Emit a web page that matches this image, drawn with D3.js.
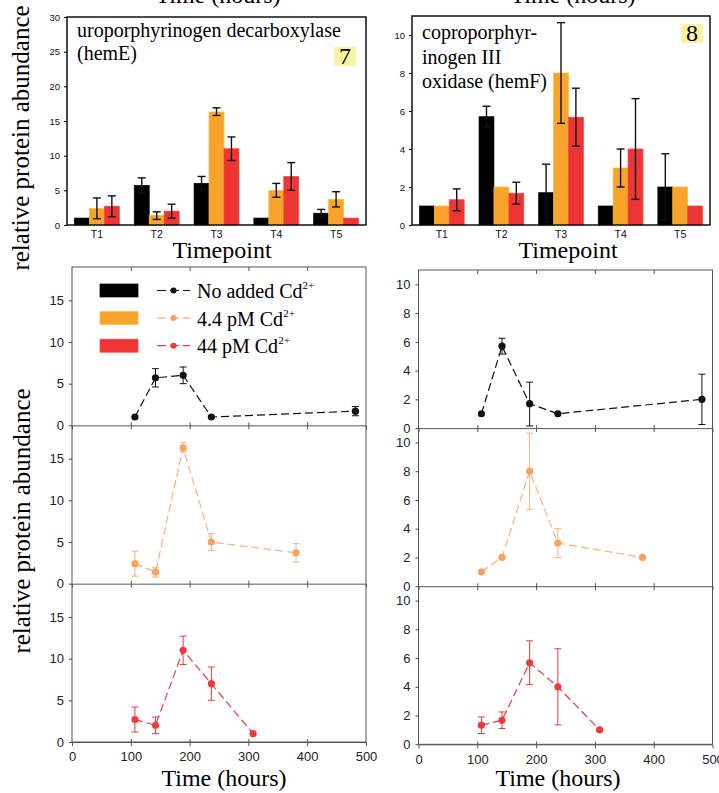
<!DOCTYPE html>
<html>
<head>
<meta charset="utf-8">
<script src="https://cdn.jsdelivr.net/npm/d3@7"></script>
<style>
  body { margin: 0; background: #fff; }
  text { font-family: "Liberation Sans", Arial, sans-serif; }
  .serif { font-family: "Liberation Serif", "Times New Roman", serif; }
</style>
</head>
<body>
<script>
const width = 719, height = 793

// data
const timepoints = ["T1", "T2", "T3", "T4", "T5"]
const conditions = ["No added Cd", "4.4 pM Cd", "44 pM Cd"]
const barColors = ["#000000", "#f8a42c", "#ee3535"]
const lineColors = ["#111111", "#f7a35f", "#ee3a3a"]

// sampling time (hours) for each condition, T1..T5
const hours = [
  [107, 142, 189, 237, 482],
  [107, 142, 189, 237, 381],
  [107, 142, 189, 237, 308]
]

// hemE  (panel 7)
const hemE_mean = [
  [1.0, 5.7, 6.0, 1.0, 1.7],
  [2.4, 1.4, 16.3, 5.0, 3.7],
  [2.7, 2.0, 11.0, 7.0, 1.0]
]
const hemE_lo = [
  [null, 4.6, 5.0, null, 1.15],
  [0.9, 0.8, 15.8, 4.0, 2.6],
  [1.2, 1.0, 9.3, 5.0, null]
]
const hemE_hi = [
  [null, 6.8, 7.0, null, 2.25],
  [3.9, 1.9, 16.9, 6.0, 4.8],
  [4.2, 3.0, 12.7, 9.0, null]
]

// hemF  (panel 8)
const hemF_mean = [
  [1.0, 5.7, 1.7, 1.0, 2.0],
  [1.0, 2.0, 8.0, 3.0, 2.0],
  [1.33, 1.67, 5.67, 4.0, 1.0]
]
const hemF_lo = [
  [null, 5.15, 0.15, null, 0.25],
  [null, null, 5.35, 2.0, null],
  [0.75, 1.1, 4.15, 1.35, null]
]
const hemF_hi = [
  [null, 6.25, 3.2, null, 3.75],
  [null, null, 10.65, 4.0, null],
  [1.9, 2.25, 7.2, 6.65, null]
]

const hemE_ticksBar = [0, 5, 10, 15, 20, 25, 30]
const hemF_ticksBar = [0, 2, 4, 6, 8, 10]
const hemE_ticksLine = [0, 5, 10, 15]
const hemF_ticksLine = [0, 2, 4, 6, 8, 10]
const hourTicks = [0, 100, 200, 300, 400, 500]

const svg = d3.select("body").append("svg")
  .attr("width", width).attr("height", height)

// ---------- bar panels ----------
function barPanel(o) {
  const g = svg.append("g")
  const x0 = d3.scaleBand().domain(timepoints).range([o.x0, o.x1])
    .paddingInner(0.25).paddingOuter(0.125)
  const x1 = d3.scaleBand().domain(d3.range(3)).range([0, x0.bandwidth()])
  const y = d3.scaleLinear().domain([0, o.ymax]).range([o.yb, o.yt])

  const yAx = g.append("g").attr("transform", `translate(${o.x0},0)`)
    .call(d3.axisLeft(y).tickValues(o.ticks).tickSize(3).tickPadding(4))
  yAx.select(".domain").remove()
  yAx.selectAll("text").attr("font-size", 9.5).attr("fill", "#111")
  yAx.selectAll("line").attr("stroke", "#000")

  const xAx = g.append("g").attr("transform", `translate(0,${o.yb})`)
    .call(d3.axisBottom(x0).tickSize(0).tickPadding(6))
  xAx.select(".domain").remove()
  xAx.selectAll("text").attr("font-size", 10.5).attr("fill", "#111")

  for (let c = 0; c < 3; c++) {
    const grp = g.append("g")
    grp.selectAll("rect")
      .data(timepoints.map((t, i) => ({t: t, v: o.mean[c][i], lo: o.lo[c][i], hi: o.hi[c][i]})))
      .enter().append("rect")
        .attr("x", d => x0(d.t) + x1(c))
        .attr("y", d => y(d.v))
        .attr("width", x1.bandwidth())
        .attr("height", d => y(0) - y(d.v))
        .attr("fill", barColors[c])
        .attr("stroke", c == 0 ? "#000" : d3.color(barColors[c]).brighter(0.4))
        .attr("stroke-width", 0.7)

    const err = timepoints.map((t, i) => ({t: t, lo: o.lo[c][i], hi: o.hi[c][i]}))
      .filter(d => d.lo != null)
    const eg = grp.selectAll(".err").data(err).enter().append("g")
      .attr("stroke", "#111").attr("stroke-width", 1.4)
    const cx = d => x0(d.t) + x1(c) + x1.bandwidth() / 2
    eg.append("line").attr("x1", cx).attr("x2", cx)
      .attr("y1", d => y(d.lo)).attr("y2", d => y(d.hi))
    eg.append("line").attr("x1", d => cx(d) - 4).attr("x2", d => cx(d) + 4)
      .attr("y1", d => y(d.lo)).attr("y2", d => y(d.lo))
    eg.append("line").attr("x1", d => cx(d) - 4).attr("x2", d => cx(d) + 4)
      .attr("y1", d => y(d.hi)).attr("y2", d => y(d.hi))
  }

  g.append("rect").attr("x", o.x0).attr("y", o.yt)
    .attr("width", o.x1 - o.x0).attr("height", o.yb - o.yt)
    .attr("fill", "none").attr("stroke", "#111").attr("stroke-width", 1.5)

  o.label.forEach((s, i) => {
    g.append("text").attr("class", "serif").attr("x", o.lx).attr("y", o.ly + i * o.lh)
      .attr("font-size", 20).attr("fill", "#000").text(s)
  })
  g.append("rect").attr("x", o.bx).attr("y", o.by).attr("width", 22).attr("height", 19)
    .attr("fill", "#f9f3a6")
  g.append("text").attr("class", "serif").attr("x", o.bx + 11).attr("y", o.by + 17)
    .attr("text-anchor", "middle").attr("font-size", 24).text(o.num)

  g.append("text").attr("class", "serif").attr("x", o.tx).attr("y", 258)
    .attr("text-anchor", "middle").attr("font-size", 24).text("Timepoint")
}

barPanel({x0: 67, x1: 366, yt: 17, yb: 225, ymax: 30, ticks: hemE_ticksBar,
  mean: hemE_mean, lo: hemE_lo, hi: hemE_hi,
  label: ["uroporphyrinogen decarboxylase", "(hemE)"], lx: 77, ly: 37, lh: 23,
  bx: 334, by: 47, num: "7", tx: 222})

barPanel({x0: 412, x1: 710, yt: 16, yb: 225, ymax: 11, ticks: hemF_ticksBar,
  mean: hemF_mean, lo: hemF_lo, hi: hemF_hi,
  label: ["coproporphyr-", "inogen III", "oxidase (hemF)"], lx: 422, ly: 39, lh: 24.5,
  bx: 681, by: 24, num: "8", tx: 568})

// ---------- time-course panels ----------
function lineColumn(o) {
  const ph = (o.bottom - o.top) / 3
  const x = d3.scaleLinear().domain([0, 500]).range([o.x0, o.x1])

  for (let c = 0; c < 3; c++) {
    const g = svg.append("g")
    const yb = o.top + ph * (c + 1)
    const y = d3.scaleLinear().domain([0, o.ymax]).range([yb, yb - ph])

    const yAx = g.append("g").attr("transform", `translate(${o.x0},0)`)
      .call(d3.axisLeft(y).tickValues(o.ticks).tickSize(3).tickPadding(5))
    yAx.select(".domain").remove()
    yAx.selectAll("text").attr("font-size", 13).attr("fill", "#222")
    yAx.selectAll("line").attr("stroke", "#444")

    const xAx = g.append("g").attr("transform", `translate(0,${yb})`)
      .call(d3.axisBottom(x).tickValues(hourTicks).tickSize(4).tickPadding(6)
        .tickFormat(c == 2 ? d3.format("d") : ""))
    xAx.select(".domain").attr("stroke", "#555")
    xAx.selectAll("line").attr("stroke", "#555").attr("y1", -3)
      .filter(d => d == 0 || d == 500).remove()
    xAx.selectAll("text").attr("font-size", 13).attr("fill", "#222")

    if (c == 0) {
      const tAx = g.append("g").attr("transform", `translate(0,${o.top})`)
        .call(d3.axisTop(x).tickValues([100, 200, 300, 400]).tickSize(-4).tickFormat(""))
      tAx.select(".domain").remove()
      tAx.selectAll("line").attr("stroke", "#555")
    }

    const pts = hours[c].map((h, i) => ({h: h, v: o.mean[c][i], lo: o.lo[c][i], hi: o.hi[c][i]}))
    const col = lineColors[c]
    const lineCol = c == 1 ? "#f9b07c" : col

    g.append("path").datum(pts)
      .attr("d", d3.line().x(d => x(d.h)).y(d => y(d.v)))
      .attr("fill", "none").attr("stroke", lineCol).attr("stroke-width", 1.2)
      .attr("stroke-dasharray", "8,4")

    const eg = g.selectAll(".err").data(pts.filter(d => d.lo != null)).enter().append("g")
      .attr("stroke", lineCol).attr("stroke-width", 1)
    eg.append("line").attr("x1", d => x(d.h)).attr("x2", d => x(d.h))
      .attr("y1", d => y(d.lo)).attr("y2", d => y(d.hi))
    eg.append("line").attr("x1", d => x(d.h) - 3.5).attr("x2", d => x(d.h) + 3.5)
      .attr("y1", d => y(d.lo)).attr("y2", d => y(d.lo))
    eg.append("line").attr("x1", d => x(d.h) - 3.5).attr("x2", d => x(d.h) + 3.5)
      .attr("y1", d => y(d.hi)).attr("y2", d => y(d.hi))

    g.selectAll("circle").data(pts).enter().append("circle")
      .attr("cx", d => x(d.h)).attr("cy", d => y(d.v)).attr("r", 3.6)
      .attr("fill", col)
  }

  svg.append("rect").attr("x", o.x0).attr("y", o.top)
    .attr("width", o.x1 - o.x0).attr("height", o.bottom - o.top)
    .attr("fill", "none").attr("stroke", "#555").attr("stroke-width", 1)

  svg.append("text").attr("class", "serif").attr("x", o.tx).attr("y", 786)
    .attr("text-anchor", "middle").attr("font-size", 24).text("Time (hours)")
  svg.append("text").attr("class", "serif").attr("x", o.tx2).attr("y", 3)
    .attr("text-anchor", "middle").attr("font-size", 24).text("Time (hours)")
}

lineColumn({x0: 72, x1: 366, top: 267, bottom: 742, ymax: 19, ticks: hemE_ticksLine,
  mean: hemE_mean, lo: hemE_lo, hi: hemE_hi, tx: 224, tx2: 218})
lineColumn({x0: 418.5, x1: 712.5, top: 270, bottom: 744.3, ymax: 11, ticks: hemF_ticksLine,
  mean: hemF_mean, lo: hemF_lo, hi: hemF_hi, tx: 558, tx2: 573})

// ---------- legend ----------
const legend = svg.append("g")
conditions.forEach((name, i) => {
  const yy = 284 + i * 27.6
  legend.append("rect").attr("x", 100).attr("y", yy).attr("width", 38).attr("height", 13)
    .attr("fill", barColors[i])
    .attr("stroke", i == 0 ? "#000" : d3.color(barColors[i]).brighter(0.4)).attr("stroke-width", 0.7)
  const lc = i == 1 ? "#f9b07c" : lineColors[i]
  legend.append("line").attr("x1", 157).attr("x2", 190).attr("y1", yy + 6.5).attr("y2", yy + 6.5)
    .attr("stroke", lc).attr("stroke-width", 1.2).attr("stroke-dasharray", "9,4")
  legend.append("circle").attr("cx", 173.5).attr("cy", yy + 6.5).attr("r", 3).attr("fill", lineColors[i])
  const t = legend.append("text").attr("class", "serif").attr("x", 197).attr("y", yy + 14)
    .attr("font-size", 20).attr("fill", "#000").text(name)
  t.append("tspan").attr("font-size", 11).attr("dy", -9).text("2+")
})

// ---------- y axis titles ----------
svg.append("text").attr("class", "serif")
  .attr("transform", "translate(29,138) rotate(-90)")
  .attr("text-anchor", "middle").attr("font-size", 25).text("relative protein abundance")
svg.append("text").attr("class", "serif")
  .attr("transform", "translate(30,521) rotate(-90)")
  .attr("text-anchor", "middle").attr("font-size", 25).text("relative protein abundance")
</script>
</body>
</html>
